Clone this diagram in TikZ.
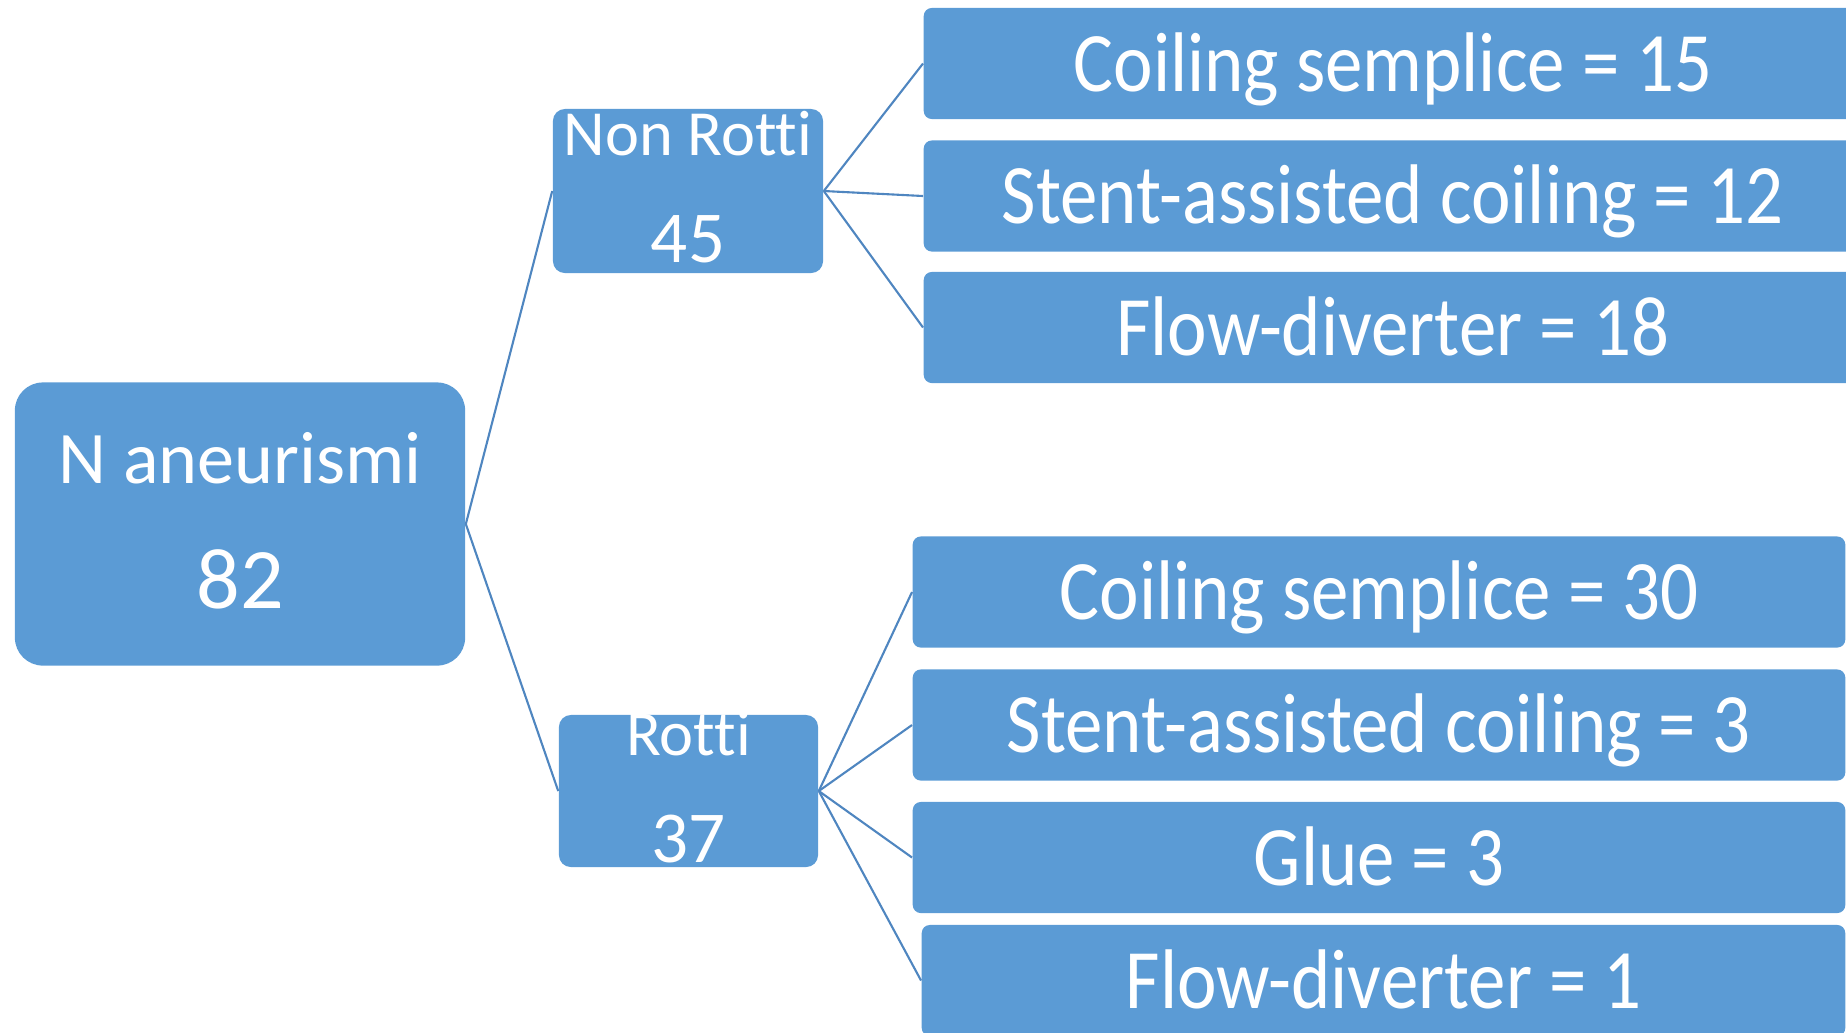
\documentclass[tikz,border=0pt]{standalone}
\usepackage{fontspec}
\setmainfont{Carlito}[Ligatures=NoCommon]
\usepackage{graphicx}
\definecolor{boxblue}{HTML}{5B9BD5}
\definecolor{lineblue}{HTML}{4F86C0}
\tikzset{
  box/.style={fill=boxblue, text=white, align=center, inner sep=0pt},
  catbox/.style={box, minimum width=2.70cm, minimum height=1.64cm, rounded corners=0.12cm,
    font=\fontsize{18.3}{30.4}\selectfont, text height=1.42cm, text depth=0pt},
  leafbox/.style={box, minimum height=1.11cm, rounded corners=0.08cm,
    font=\fontsize{21.3}{25}\selectfont, text height=0.55cm, text depth=0pt},
  link/.style={draw=lineblue, line width=0.6pt}
}
\newcommand\numsize{\fontsize{20.8}{24}\selectfont}
\newcommand\tall[1]{\scalebox{1}[1.13]{#1}}

\begin{document}
\begin{tikzpicture}[x=0.01cm,y=-0.01cm]
\useasboundingbox (0,0) rectangle (1846,1032);
\clip (0,0) rectangle (1846,1032);
\node[box, minimum width=4.50cm, minimum height=2.83cm, rounded corners=0.28cm,
  font=\fontsize{21.1}{35.3}\selectfont, text height=1.68cm, text depth=0pt]
  (root) at (240,524) {N aneurismi\\{\fontsize{24.5}{29}\selectfont 82}};
\node[catbox] (nonrotti) at (688,191) {Non Rotti\\{\numsize 45}};
\node[catbox, minimum width=2.59cm, minimum height=1.52cm] (rotti) at (688.5,791) {Rotti\\{\numsize 37}};
\node[leafbox, minimum width=9.38cm] (nr1) at (1393,63.5) {\tall{Coiling semplice = 15}};
\node[leafbox, minimum width=9.38cm] (nr2) at (1393,196) {\tall{Stent-assisted coiling = 12}};
\node[leafbox, minimum width=9.38cm] (nr3) at (1393,327.5) {\tall{Flow-diverter = 18}};
\node[leafbox, minimum width=9.32cm] (r1) at (1379,592) {\tall{Coiling semplice = 30}};
\node[leafbox, minimum width=9.32cm] (r2) at (1379,725) {\tall{Stent-assisted coiling = 3}};
\node[leafbox, minimum width=9.32cm] (r3) at (1379,857.5) {\tall{Glue = 3}};
\node[leafbox, minimum width=9.23cm] (r4) at (1383.5,980.5) {\tall{Flow-diverter = 1}};
\draw[link] (root.east) -- (nonrotti.west);
\draw[link] (root.east) -- (rotti.west);
\foreach \n in {nr1,nr2,nr3}
  \draw[link] (nonrotti.east) -- (\n.west);
\foreach \n in {r1,r2,r3,r4}
  \draw[link] (rotti.east) -- (\n.west);
\end{tikzpicture}
\end{document}
